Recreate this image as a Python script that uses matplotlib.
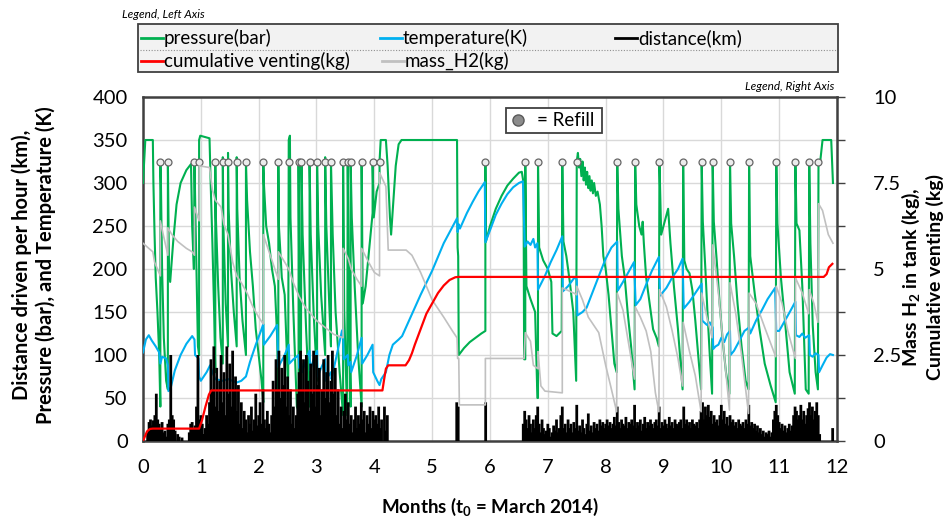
import numpy as np
import matplotlib.pyplot as plt
from matplotlib.lines import Line2D
from matplotlib.patches import Rectangle

plt.rcParams['font.family'] = ['Lato', 'DejaVu Sans']
plt.rcParams['mathtext.default'] = 'regular'

# ---- data (months since March 2014) ----
pressure = [(0.00,300),(0.04,350),(0.17,350),(0.18,300),(0.20,240),(0.22,190),(0.25,150),(0.28,100),(0.30,40),(0.30,325),
            (0.31,300),(0.33,200),(0.36,120),(0.40,70),(0.43,60),(0.43,325),(0.45,200),(0.47,185),(0.52,230),(0.58,275),
            (0.65,300),(0.75,315),(0.83,322),(0.85,250),(0.88,200),(0.89,325),(0.91,250),(0.95,110),(0.97,100),(0.97,350),
            (0.99,355),(1.15,352),(1.17,300),(1.20,230),(1.23,150),(1.25,80),(1.25,325),(1.26,260),(1.30,180),(1.34,120),
            (1.38,90),(1.38,330),(1.39,250),(1.43,160),(1.47,110),(1.47,335),(1.48,270),(1.52,200),(1.57,150),(1.62,110),
            (1.62,330),(1.63,270),(1.67,190),(1.72,140),(1.78,100),(1.78,325),(1.80,280),(1.85,220),(1.90,180),(1.95,130),
            (2.00,100),(2.05,70),(2.08,45),(2.08,325),(2.09,300),(2.13,250),(2.18,230),(2.23,200),(2.28,180),(2.32,120),
            (2.34,40),(2.34,325),(2.35,250),(2.40,190),(2.45,170),(2.51,60),(2.52,350),(2.54,355),(2.55,260),(2.60,150),
            (2.66,40),(2.69,35),(2.69,325),(2.70,200),(2.73,60),(2.74,325),(2.76,240),(2.82,130),(2.88,40),(2.88,325),
            (2.90,240),(2.95,150),(3.01,70),(3.01,325),(3.03,250),(3.08,170),(3.15,100),(3.15,330),(3.17,250),(3.22,160),
            (3.25,110),(3.25,325),(3.28,240),(3.33,150),(3.40,80),(3.46,30),(3.46,325),(3.48,150),(3.53,30),(3.54,325),
            (3.56,150),(3.59,40),(3.59,325),(3.61,260),(3.66,180),(3.72,100),(3.78,40),(3.78,325),(3.80,160),(3.85,180),
            (3.90,215),(3.95,250),(3.97,265),(3.97,325),(3.99,260),(4.04,290),(4.09,300),(4.09,325),(4.11,350),(4.20,350),
            (4.23,320),(4.27,260),(4.29,240),(4.32,270),(4.37,320),(4.42,345),(4.47,350),(5.43,350),(5.44,225),(5.45,215),
            (5.46,100),(5.55,108),(5.65,115),(5.75,120),(5.85,125),(5.92,128),(5.92,325),(5.93,232),(6.00,250),(6.10,270),
            (6.20,285),(6.30,297),(6.40,305),(6.50,312),(6.55,313),(6.58,300),(6.59,95),(6.61,95),(6.61,325),(6.63,180),
            (6.70,165),(6.78,150),(6.82,50),(6.83,50),(6.83,325),(6.85,225),(6.92,210),(7.00,200),(7.06,185),(7.08,125),
            (7.15,122),(7.24,128),(7.25,325),(7.27,232),(7.32,215),(7.38,185),(7.44,150),(7.49,70),(7.50,325),(7.52,335),
            (7.54,318),(7.56,328),(7.58,308),(7.60,325),(7.62,303),(7.64,318),(7.66,298),(7.68,313),(7.70,294),(7.72,308),
            (7.74,291),(7.76,303),(7.78,288),(7.80,300),(7.83,285),(7.86,290),(7.90,275),(7.93,250),(7.96,215),(8.00,200),
            (8.05,170),(8.10,130),(8.15,90),(8.19,80),(8.20,325),(8.22,270),(8.28,215),(8.33,190),(8.38,150),(8.44,110),
            (8.50,60),(8.51,325),(8.53,275),(8.58,250),(8.62,240),(8.64,255),(8.66,230),(8.70,190),(8.76,160),(8.82,130),
            (8.88,120),(8.92,110),(8.93,325),(8.96,240),(9.02,255),(9.08,270),(9.12,230),(9.18,180),(9.25,130),(9.33,60),
            (9.34,325),(9.36,210),(9.40,200),(9.45,195),(9.50,175),(9.55,140),(9.60,100),(9.65,60),(9.66,325),(9.68,255),
            (9.72,205),(9.76,150),(9.80,100),(9.84,55),(9.85,325),(9.87,255),(9.92,210),(9.97,160),(10.02,120),(10.08,80),
            (10.14,55),(10.15,325),(10.17,253),(10.22,215),(10.28,160),(10.35,110),(10.42,70),(10.47,60),(10.48,325),
            (10.50,215),(10.58,170),(10.66,130),(10.75,90),(10.85,65),(10.94,45),(10.95,325),(10.97,253),(11.03,190),
            (11.10,140),(11.18,80),(11.27,55),(11.28,325),(11.30,253),(11.35,245),(11.40,180),(11.46,60),(11.51,55),
            (11.52,325),(11.54,230),(11.58,135),(11.63,80),(11.67,60),(11.68,325),(11.71,325),(11.75,350),(11.90,350),
            (11.93,300)]

temperature = [(0.00,103),(0.05,118),(0.10,123),(0.15,117),(0.22,110),(0.28,103),(0.30,90),(0.33,98),(0.40,96),(0.43,88),
               (0.44,58),(0.48,62),(0.55,82),(0.65,100),(0.75,113),(0.85,122),(0.89,118),(0.90,100),(0.96,96),(0.97,75),
               (1.00,70),(1.10,80),(1.16,88),(1.20,80),(1.25,72),(1.38,70),(1.47,72),(1.62,68),(1.70,70),(1.78,75),
               (1.85,92),(1.95,112),(2.05,130),(2.08,136),(2.09,112),(2.20,122),(2.32,135),(2.34,86),(2.45,100),(2.52,112),
               (2.53,90),(2.60,95),(2.69,100),(2.70,85),(2.74,90),(2.75,80),(2.82,95),(2.88,105),(2.89,82),(2.95,95),
               (3.01,105),(3.02,75),(3.08,85),(3.15,95),(3.16,70),(3.20,75),(3.25,80),(3.26,72),(3.35,100),(3.44,128),
               (3.46,130),(3.47,95),(3.54,100),(3.55,88),(3.59,92),(3.60,80),(3.70,100),(3.78,120),(3.79,90),(3.88,100),
               (3.97,112),(3.98,80),(4.05,70),(4.09,65),(4.12,72),(4.20,80),(4.26,100),(4.32,112),(4.42,118),(4.48,122),
               (4.60,140),(4.80,170),(5.00,198),(5.20,230),(5.40,255),(5.43,259),(5.44,243),(5.46,252),(5.48,247),(5.50,250),
               (5.60,265),(5.70,278),(5.80,290),(5.91,301),(5.92,231),(6.00,245),(6.10,263),(6.20,276),(6.30,287),(6.40,295),
               (6.50,300),(6.57,302),(6.60,226),(6.65,232),(6.70,228),(6.75,235),(6.78,225),(6.82,230),(6.83,176),(6.95,192),
               (7.05,208),(7.15,222),(7.25,238),(7.26,174),(7.35,180),(7.46,190),(7.50,188),(7.51,146),(7.60,150),(7.67,155),
               (7.79,176),(7.90,195),(8.00,212),(8.10,225),(8.20,232),(8.21,175),(8.30,185),(8.40,197),(8.49,208),(8.52,158),
               (8.60,165),(8.70,182),(8.80,198),(8.92,214),(8.94,169),(9.05,178),(9.15,190),(9.25,200),(9.33,212),(9.35,154),
               (9.45,162),(9.55,172),(9.66,183),(9.67,140),(9.75,135),(9.80,138),(9.85,132),(9.86,107),(9.90,110),(9.95,112),
               (10.00,120),(10.05,115),(10.10,124),(10.15,128),(10.16,100),(10.22,105),(10.30,115),(10.40,128),(10.48,132),
               (10.50,125),(10.60,140),(10.70,152),(10.80,165),(10.93,178),(10.95,128),(11.00,128),(11.10,140),(11.20,152),
               (11.28,162),(11.29,123),(11.35,121),(11.40,125),(11.45,120),(11.52,123),(11.53,100),(11.58,98),(11.63,102),
               (11.68,100),(11.69,80),(11.75,88),(11.82,97),(11.88,101),(11.93,100)]

mass_h2 = [(0.00,5.75),(0.10,5.6),(0.17,5.5),(0.20,5.2),(0.25,5.0),(0.30,4.8),(0.30,6.4),(0.35,6.0),(0.43,5.4),(0.43,6.2),
           (0.50,6.0),(0.60,5.8),(0.75,5.6),(0.85,5.5),(0.89,5.4),(0.89,6.8),(0.97,6.4),(0.97,8.0),(1.15,7.95),(1.20,7.3),
           (1.25,7.0),(1.35,6.8),(1.40,6.3),(1.47,6.0),(1.55,5.2),(1.62,4.8),(1.70,4.6),(1.80,4.3),(1.90,3.9),(2.00,3.6),
           (2.08,3.4),(2.08,6.0),(2.20,5.4),(2.30,4.9),(2.34,4.7),(2.34,5.5),(2.45,5.2),(2.52,5.0),(2.60,4.6),(2.70,4.2),
           (2.80,3.9),(2.90,3.7),(3.00,3.5),(3.15,3.3),(3.30,3.1),(3.46,3.0),(3.46,5.6),(3.55,5.3),(3.60,5.0),(3.70,4.7),
           (3.78,4.5),(3.78,5.6),(3.90,5.2),(4.00,4.9),(4.09,4.8),(4.09,7.8),(4.20,7.4),(4.24,5.55),(4.55,5.55),(4.65,5.4),
           (4.80,4.9),(5.00,4.1),(5.20,3.6),(5.35,3.2),(5.43,3.0),(5.44,2.4),(5.46,2.4),(5.47,1.05),(5.92,1.05),(5.92,2.4),
           (6.59,2.4),(6.61,3.15),(6.70,2.9),(6.75,2.2),(6.83,2.1),(6.83,2.6),(6.88,1.6),(6.95,1.45),(7.25,1.4),(7.25,4.45),
           (7.45,4.3),(7.50,4.25),(7.50,4.5),(7.60,4.1),(7.70,3.6),(7.88,3.15),(8.00,2.2),(8.10,1.5),(8.19,0.85),(8.20,4.3),
           (8.30,3.8),(8.40,2.8),(8.50,1.8),(8.51,3.9),(8.60,3.6),(8.70,3.2),(8.78,2.6),(8.86,1.4),(8.92,0.85),(8.93,4.4),
           (9.05,3.9),(9.15,3.2),(9.25,2.4),(9.33,1.6),(9.34,3.45),(9.45,2.6),(9.55,1.9),(9.65,0.85),(9.66,4.3),(9.75,3.6),
           (9.84,3.0),(9.85,5.7),(9.95,4.3),(10.05,2.5),(10.14,0.9),(10.15,4.6),(10.25,3.7),(10.35,2.5),(10.47,0.8),
           (10.48,4.3),(10.60,4.0),(10.75,3.3),(10.94,2.45),(10.95,4.5),(11.05,4.0),(11.15,3.2),(11.28,2.4),(11.28,4.75),
           (11.40,4.3),(11.51,3.7),(11.52,4.4),(11.60,4.0),(11.67,3.45),(11.68,6.9),(11.75,6.7),(11.85,6.0),(11.93,5.75)]

venting = [(0.00,0.0),(0.03,0.12),(0.07,0.28),(0.12,0.35),(0.17,0.36),(0.97,0.36),(1.02,0.6),(1.08,1.0),(1.14,1.35),
           (1.18,1.47),(4.14,1.47),(4.17,1.8),(4.20,2.1),(4.24,2.2),(4.54,2.2),(4.60,2.35),(4.65,2.55),(4.70,2.8),
           (4.80,3.25),(4.90,3.7),(5.00,4.0),(5.10,4.3),(5.20,4.52),(5.30,4.68),(5.40,4.76),(5.45,4.77),(11.77,4.77),
           (11.82,4.85),(11.86,5.05),(11.92,5.15)]

refill_t = [0.30, 0.43, 0.89, 0.97, 1.25, 1.38, 1.47, 1.62, 1.78, 2.08, 2.34, 2.52, 2.69, 2.74, 2.88, 3.01, 3.15,
            3.25, 3.46, 3.54, 3.59, 3.78, 3.97, 4.09, 5.92, 6.61, 6.83, 7.25, 7.50, 8.20, 8.51, 8.93, 9.34, 9.66,
            9.85, 10.15, 10.48, 10.95, 11.28, 11.52, 11.68]
refill_level = 325

# distance driven per hour, sampled every 0.025 month (segment start, values)
dist_step = 0.025
distance = [
    (0.08, [10, 22, 25, 18, 24, 30, 55, 25, 20, 15, 22, 10, 12, 5, 20, 25, 100, 30, 25, 12]),
    (0.55, [3, 0, 8, 5, 0, 4]),
    (0.80, [10, 20, 22, 15, 18, 40, 100, 25, 30, 20, 8]),
    (1.05, [8, 15, 30, 20, 45, 95, 60, 110, 40, 85, 35, 70, 100, 45, 80, 30, 110, 55, 90, 40, 105, 60, 75, 35, 65,
            20, 45, 15, 35, 25, 10, 30, 20, 40, 12, 25, 55, 18, 30, 45, 20, 60, 25, 15, 35, 20, 10, 30, 70, 40,
            95, 60, 105, 50, 85, 65, 100, 40, 75, 30, 60, 20, 40, 15, 30, 55, 80, 105, 60, 95, 45, 100, 70, 35, 90,
            55, 105, 40, 100, 65, 85, 30, 60, 95, 50, 80, 100, 45, 70, 105, 55, 85, 30, 60, 20, 40, 15, 35, 55, 25,
            45, 20, 30, 10, 25, 40, 15, 30, 20, 45, 25, 35, 10, 30, 20, 40, 15, 35, 25, 30, 20, 40, 15, 25]),
    (4.175, [40, 12, 30]),
    (5.425, [45, 40]),
    (5.90, [0, 45]),
    (6.575, [20, 35, 25, 15, 30, 20, 10, 25, 15, 30, 40, 20, 10, 25, 15, 8, 12, 20, 15, 5, 10, 18, 12, 25, 10, 15,
             30, 40, 15, 20, 10, 25, 15, 20, 10, 22, 15, 42, 12, 18, 10, 25, 15, 8, 20, 32, 12, 18, 10, 22, 15, 20,
             12, 25, 18, 22, 15, 20, 25, 18, 22, 15, 20, 28, 18, 40, 22, 15, 25, 20, 18, 28, 15, 22, 20, 25, 18, 42,
             15, 22, 18, 25, 12, 20, 28, 15, 22, 18, 25, 20, 15, 22, 25, 18, 40, 15, 22, 18, 25, 20, 15, 28, 18, 22,
             15, 25, 20, 18, 22, 25, 15, 40, 20, 25, 18, 22, 15, 25, 20, 18, 22, 15, 25, 35, 45, 25, 40, 30, 42, 28,
             35, 20, 30, 22, 25, 18, 30, 42, 25, 35, 20, 28, 18, 30, 22, 25, 18, 22, 15, 25, 20, 18, 22, 15, 25, 20,
             42, 18, 22, 15, 20, 12, 18, 10, 15, 8, 12, 5, 10, 8, 12, 5, 10, 25, 35, 42, 30, 22, 15, 20, 12, 18, 10,
             15, 20, 12, 18, 30, 40, 35, 25, 30, 42, 25, 35, 20, 30, 38, 45, 30, 40, 25, 35, 45, 30, 8]),
    (11.925, [15]),
]

pt, pv = zip(*pressure)
tt, tv = zip(*temperature)
mt, mv = zip(*mass_h2)
vt, vv = zip(*venting)
dt, dv = [], []
for start, vals in distance:
    for i, v in enumerate(vals):
        dt.append(start + i * dist_step)
        dv.append(v)

# ---- figure ----
W, H = 953, 520
fig = plt.figure(figsize=(W / 100, H / 100), dpi=100)
ax = fig.add_axes([143 / W, 1 - 441 / H, 694 / W, 344 / H])

ax.plot(pt, pv, color='#00b050', lw=1.5, zorder=3)
ax.plot(tt, tv, color='#00b0f0', lw=1.5, zorder=4)
ax.vlines(dt, 0, dv, color='black', lw=2.0, zorder=5, snap=False)
ax.plot(refill_t, [refill_level] * len(refill_t), 'o', ms=5, mfc='#ececec', mec='#666666', mew=0.9, zorder=6)

ax.set_xlim(0, 12)
ax.set_ylim(0, 400)
ax.set_xticks(range(13))
ax.set_yticks(range(0, 401, 50))
ax.grid(True, color='#d9d9d9', lw=1)
ax.set_axisbelow(True)
ax.tick_params(axis='x', length=0, labelsize=14.5, pad=13)
ax.tick_params(axis='y', length=0, labelsize=14.5, pad=11)
for s in ax.spines.values():
    s.set_color('#404040')
    s.set_linewidth(1.8)

ax2 = ax.twinx()
ax2.plot(mt, mv, color='#c0c0c0', lw=1.2, zorder=2)
ax2.plot(vt, vv, color='#ff0000', lw=1.6, zorder=3)
ax2.set_ylim(0, 10)
ax2.set_yticks([0, 2.5, 5, 7.5, 10])
ax2.set_yticklabels(['0', '2.5', '5', '7.5', '10'])
ax2.set_yticks(np.arange(0, 10.01, 1.25), minor=True)
ax2.tick_params(axis='y', which='both', length=6, width=1, color='#404040', labelsize=14.5, pad=20)
for s in ax2.spines.values():
    s.set_visible(False)

# axis titles
fig.text(34 / W, 1 - 265 / H, 'Distance driven per hour (km),\nPressure (bar), and Temperature (K)',
         rotation=90, ha='center', va='center', fontsize=14.5, fontweight='bold', linespacing=1.2)
fig.text(922 / W, 1 - 277 / H, 'Mass H$_2$ in tank (kg),\nCumulative venting (kg)',
         rotation=90, ha='center', va='center', fontsize=14, fontweight='bold', linespacing=1.2)
fig.text(490 / W, 1 - 507 / H, 'Months (t$_0$ = March 2014)', ha='center', va='center',
         fontsize=13.5, fontweight='bold')

# legend box drawn like the original
fig.add_artist(Rectangle((138 / W, 1 - 72 / H), 700 / W, 48 / H, transform=fig.transFigure,
                         facecolor='#f2f2f2', edgecolor='#404040', lw=1.3, zorder=5))
fig.add_artist(Line2D([140 / W, 836 / W], [1 - 50 / H, 1 - 50 / H], transform=fig.transFigure,
                      color='#909090', lw=0.8, ls=(0, (1, 1.5)), zorder=6))
entries = [('pressure(bar)', '#00b050', 141, 38), ('temperature(K)', '#00b0f0', 380, 38),
           ('distance(km)', 'black', 615, 38), ('cumulative venting(kg)', '#ff0000', 141, 61),
           ('mass_H2(kg)', '#c0c0c0', 382, 61)]
for label, col, x0, y0 in entries:
    fig.add_artist(Line2D([x0 / W, (x0 + 22) / W], [1 - y0 / H, 1 - y0 / H], transform=fig.transFigure,
                          color=col, lw=2, zorder=6))
    fig.text((x0 + 23) / W, 1 - y0 / H, label, ha='left', va='center', fontsize=13.5, zorder=6)

fig.text(122 / W, 1 - 15 / H, 'Legend, Left Axis', ha='left', va='center', fontsize=8.5, style='italic')
fig.text(834 / W, 1 - 87 / H, 'Legend, Right Axis', ha='right', va='center', fontsize=8.5, style='italic')

# refill key
fig.add_artist(Rectangle((506 / W, 1 - 133 / H), 96 / W, 25 / H, transform=fig.transFigure,
                         facecolor='white', edgecolor='#404040', lw=1.3, zorder=5))
fig.add_artist(Line2D([518 / W], [1 - 120 / H], transform=fig.transFigure, marker='o', ms=8,
                      mfc='#8c8c8c', mec='#595959', mew=1, zorder=6))
fig.text(537 / W, 1 - 120 / H, '= Refill', ha='left', va='center', fontsize=13.5, zorder=6)

fig.savefig('out.png', dpi=100)
